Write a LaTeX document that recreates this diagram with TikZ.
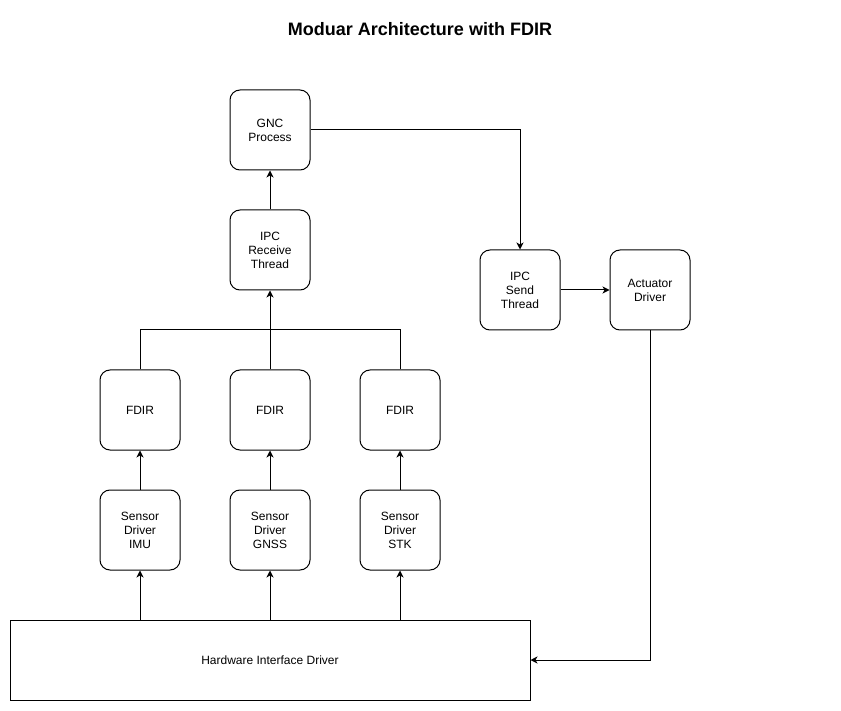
\documentclass[tikz,border=0pt]{standalone}
\usepackage{fontspec}
\setmainfont{Liberation Sans}
\usetikzlibrary{arrows.meta}
\begin{document}
\begin{tikzpicture}[x=1pt,y=-1pt,
  box/.style={draw,line width=1pt,rounded corners=10pt,minimum width=80pt,minimum height=80pt,inner sep=0pt,align=center,font=\fontsize{12pt}{14pt}\selectfont},
  hwbox/.style={draw,line width=1pt,minimum width=520pt,minimum height=80pt,inner sep=0pt,font=\fontsize{12pt}{14pt}\selectfont},
  conn/.style={line width=1pt,-{Stealth[length=7pt,width=7pt,inset=2pt]}},
  plain/.style={line width=1pt}]
\useasboundingbox (0,0) rectangle (841,711);
\node[font=\bfseries\fontsize{18pt}{22pt}\selectfont] (title) at (420,29) {Moduar Architecture with FDIR};
\node[box] (gnc) at (270,130) {GNC\\Process};
\node[box] (ipcr) at (270,250) {IPC\\Receive\\Thread};
\node[box] (f1) at (140,410) {FDIR};
\node[box] (f2) at (270,410) {FDIR};
\node[box] (f3) at (400,410) {FDIR};
\node[box] (s1) at (140,530) {Sensor\\Driver\\IMU};
\node[box] (s2) at (270,530) {Sensor\\Driver\\GNSS};
\node[box] (s3) at (400,530) {Sensor\\Driver\\STK};
\node[hwbox] (hw) at (270,660) {Hardware Interface Driver};
\node[box] (ipcs) at (520,290) {IPC\\Send\\Thread};
\node[box] (act) at (650,290) {Actuator\\Driver};
\coordinate (j) at (270,330);
% hardware to sensors
\draw[conn] (hw.north -| s1) -- (s1.south);
\draw[conn] (hw.north -| s2) -- (s2.south);
\draw[conn] (hw.north -| s3) -- (s3.south);
% sensors to FDIR
\draw[conn] (s1) -- (f1);
\draw[conn] (s2) -- (f2);
\draw[conn] (s3) -- (f3);
% FDIR to IPC receive
\draw[plain] (f1.north) |- (j);
\draw[plain] (f3.north) |- (j);
\draw[conn] (f2.north) -- (ipcr.south);
% IPC receive to GNC
\draw[conn] (ipcr) -- (gnc);
% GNC to IPC send
\draw[conn] (gnc.east) -| (ipcs.north);
% IPC send to actuator
\draw[conn] (ipcs) -- (act);
% actuator to hardware
\draw[conn] (act.south) |- (hw.east);
\end{tikzpicture}
\end{document}
